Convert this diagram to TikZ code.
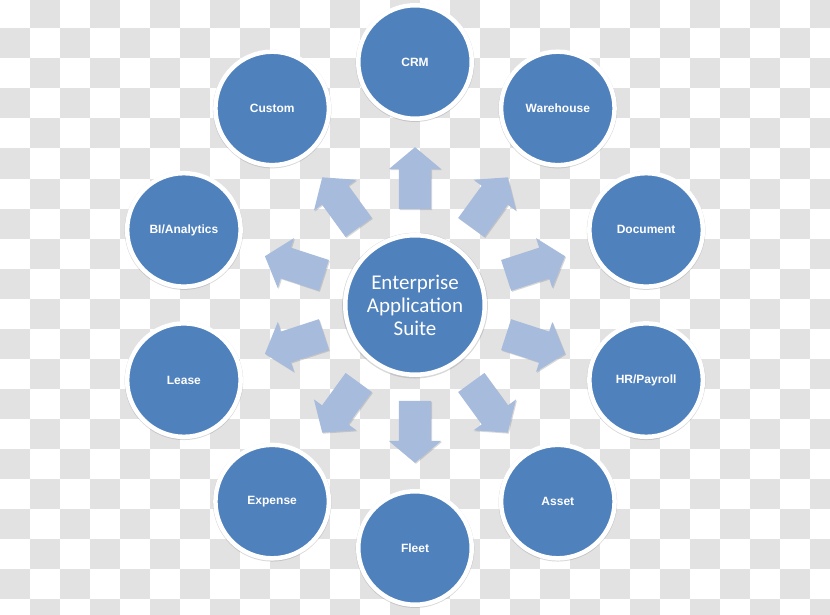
\documentclass[tikz,border=0pt]{standalone}
\usepackage{fontspec}
\newfontfamily\labelfont{Liberation Sans}
\newfontfamily\hubfont{Carlito}
\usetikzlibrary{calc, shapes.arrows, shadows}
\definecolor{suiteblue}{RGB}{79,129,189}
\definecolor{arrowblue}{RGB}{167,187,221}
\definecolor{tilegray}{RGB}{226,226,226}
\tikzset{
  module/.style={circle, fill=suiteblue, draw=white, line width=4.5pt,
    minimum size=113.5pt, inner sep=0pt, text=white,
    font=\labelfont\bfseries\fontsize{12}{14}\selectfont,
    drop shadow={shadow scale=1.045, shadow xshift=0pt, shadow yshift=-0.6pt, opacity=0.3}},
  hubcircle/.style={module, minimum size=139.5pt, align=center,
    font=\hubfont\fontsize{21}{23}\selectfont},
  outarrow/.style={single arrow, fill=arrowblue, draw=none,
    minimum height=62pt, minimum width=52pt, inner xsep=0pt, inner ysep=16pt,
    single arrow head extend=10pt, single arrow tip angle=100,
    drop shadow={shadow xshift=1pt, shadow yshift=-1pt, opacity=0.3}}
}

\begin{document}
\begin{tikzpicture}[x=1pt, y=-1pt] % Pixelraster, y nach unten

    \useasboundingbox (0,0) rectangle (830,615);

    % Hintergrund (Schachbrett)
    \fill[white] (0,0) rectangle (830,615);
    \begin{scope}
        \clip (0,0) rectangle (830,615);
        \foreach \r in {0,2,...,20} {
            \foreach \c in {1,3,...,27} {
                \fill[tilegray] (30*\c,30*\r-1.5) rectangle ++(30,30);
            }
        }
        \foreach \r in {1,3,...,21} {
            \foreach \c in {0,2,...,26} {
                \fill[tilegray] (30*\c,30*\r-1.5) rectangle ++(30,30);
            }
        }
    \end{scope}

    % Mittelkreis
    \node[hubcircle] (hub) at (415,305) {Enterprise\\Application\\Suite};

    % Module im Kreis um die Mitte
    \foreach \i/\a/\txt in {1/90/CRM, 2/54/Warehouse, 3/18/Document,
        4/-18/{HR/Payroll}, 5/-54/Asset, 6/-90/Fleet, 7/-126/Expense,
        8/-162/Lease, 9/162/{BI/Analytics}, 10/126/Custom} {
        \node[module] (n\i) at ($(hub)+(\a:243pt)$) {\txt};
        % Blockpfeil von der Mitte nach aussen
        \node[outarrow, rotate=\a] (arr\i) at ($(hub)!120pt!(n\i)$) {};
    }
\end{tikzpicture}
\end{document}
